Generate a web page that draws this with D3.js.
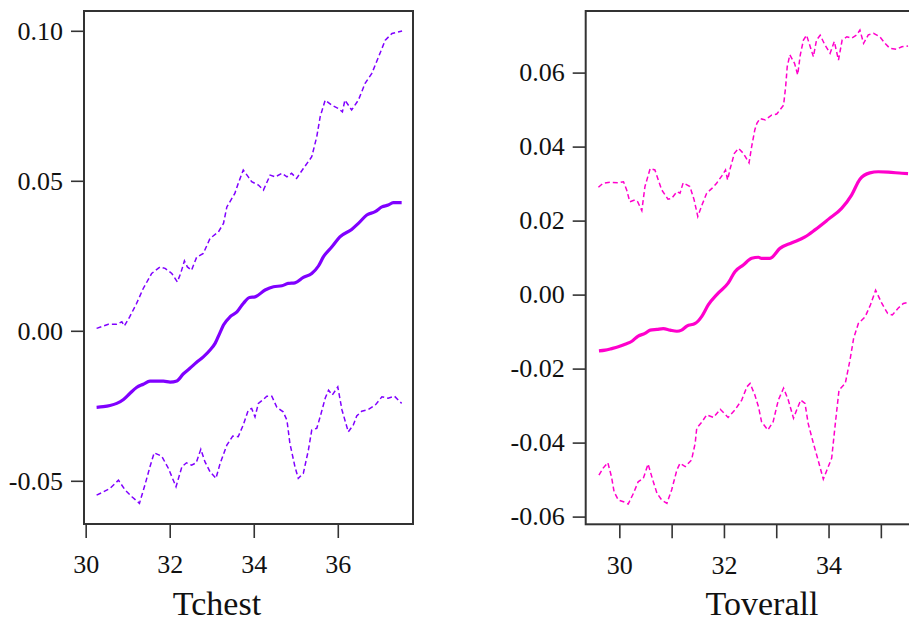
<!DOCTYPE html>
<html>
<head>
<meta charset="utf-8">
<script src="https://cdn.jsdelivr.net/npm/d3@7"></script>
<style>
  html, body { margin: 0; padding: 0; background: #fff; }
  svg { display: block; }
</style>
</head>
<body>
<svg id="chart" width="909" height="624"></svg>
<script>
// ---------- DATA ----------
// Panel 1: Tchest  — [x, y] pairs
const tchestFit = [[30.26,-0.0255],[30.42,-0.0253],[30.58,-0.0249],[30.74,-0.0242],[30.90,-0.0229],[31.05,-0.0209],[31.21,-0.0189],[31.37,-0.0178],[31.53,-0.0168],[31.85,-0.0168],[32.01,-0.0171],[32.17,-0.0167],[32.32,-0.0144],[32.48,-0.0125],[32.64,-0.0105],[32.80,-0.0087],[32.96,-0.0064],[33.08,-0.0042],[33.20,-0.0005],[33.28,0.0019],[33.44,0.0047],[33.60,0.0063],[33.75,0.0091],[33.90,0.0111],[34.03,0.0113],[34.27,0.0136],[34.47,0.0147],[34.67,0.0150],[34.82,0.0158],[34.98,0.0160],[35.18,0.0178],[35.38,0.0191],[35.54,0.0216],[35.66,0.0247],[35.86,0.0280],[36.05,0.0313],[36.33,0.0338],[36.49,0.0358],[36.69,0.0386],[36.89,0.0397],[37.05,0.0413],[37.20,0.0419],[37.32,0.0427],[37.52,0.0427]];
const tchestUpper = [[30.26,0.0008],[30.54,0.0022],[30.74,0.0022],[30.86,0.0030],[30.92,0.0016],[31.05,0.0047],[31.21,0.0091],[31.37,0.0141],[31.57,0.0191],[31.77,0.0213],[31.89,0.0208],[32.05,0.0191],[32.18,0.0163],[32.26,0.0191],[32.35,0.0233],[32.42,0.0213],[32.52,0.0202],[32.64,0.0245],[32.80,0.0258],[32.96,0.0308],[33.16,0.0330],[33.28,0.0358],[33.36,0.0413],[33.55,0.0458],[33.63,0.0491],[33.75,0.0536],[33.87,0.0513],[33.95,0.0497],[34.11,0.0486],[34.23,0.0469],[34.39,0.0519],[34.51,0.0513],[34.67,0.0525],[34.79,0.0513],[34.90,0.0525],[35.02,0.0508],[35.18,0.0541],[35.38,0.0580],[35.50,0.0647],[35.58,0.0713],[35.70,0.0769],[35.86,0.0752],[36.01,0.0741],[36.11,0.0730],[36.17,0.0769],[36.33,0.0736],[36.49,0.0769],[36.65,0.0825],[36.81,0.0858],[36.97,0.0913],[37.13,0.0969],[37.29,0.0991],[37.46,0.0997],[37.53,0.0999]];
const tchestLower = [[30.26,-0.0548],[30.42,-0.0537],[30.58,-0.0525],[30.78,-0.0498],[30.94,-0.0531],[31.10,-0.0553],[31.28,-0.0575],[31.41,-0.0514],[31.53,-0.0453],[31.63,-0.0407],[31.81,-0.0418],[31.97,-0.0459],[32.15,-0.0520],[32.29,-0.0453],[32.40,-0.0440],[32.52,-0.0448],[32.63,-0.0440],[32.74,-0.0395],[32.84,-0.0437],[32.96,-0.0470],[33.10,-0.0492],[33.20,-0.0442],[33.36,-0.0381],[33.50,-0.0351],[33.63,-0.0353],[33.75,-0.0314],[33.87,-0.0264],[33.95,-0.0259],[34.03,-0.0287],[34.11,-0.0242],[34.23,-0.0229],[34.31,-0.0218],[34.43,-0.0218],[34.55,-0.0255],[34.70,-0.0270],[34.79,-0.0298],[34.86,-0.0375],[34.98,-0.0453],[35.06,-0.0492],[35.18,-0.0475],[35.30,-0.0398],[35.38,-0.0331],[35.50,-0.0325],[35.58,-0.0287],[35.70,-0.0225],[35.78,-0.0198],[35.87,-0.0214],[36.00,-0.0187],[36.10,-0.0264],[36.17,-0.0298],[36.25,-0.0337],[36.37,-0.0314],[36.45,-0.0284],[36.57,-0.0268],[36.73,-0.0262],[36.89,-0.0248],[37.05,-0.0220],[37.20,-0.0225],[37.35,-0.0218],[37.52,-0.0242]];

// Panel 2: Toverall — [x, y] pairs
const toverallFit = [[29.61,-0.0152],[29.73,-0.0150],[29.85,-0.0146],[29.98,-0.0141],[30.11,-0.0134],[30.24,-0.0126],[30.36,-0.0112],[30.49,-0.0105],[30.59,-0.0096],[30.72,-0.0094],[30.84,-0.0092],[30.97,-0.0096],[31.10,-0.0099],[31.19,-0.0096],[31.29,-0.0085],[31.45,-0.0078],[31.58,-0.0058],[31.70,-0.0028],[31.89,0.0004],[32.08,0.0031],[32.21,0.0062],[32.37,0.0080],[32.53,0.0098],[32.66,0.0101],[32.72,0.0098],[32.88,0.0098],[33.07,0.0125],[33.30,0.0140],[33.55,0.0156],[33.74,0.0175],[34.00,0.0204],[34.25,0.0233],[34.44,0.0269],[34.60,0.0312],[34.79,0.0329],[34.95,0.0332],[35.14,0.0331],[35.40,0.0328],[35.52,0.0327]];
const toverallUpper = [[29.60,0.0290],[29.69,0.0301],[29.82,0.0304],[29.98,0.0302],[30.08,0.0305],[30.14,0.0283],[30.20,0.0251],[30.30,0.0256],[30.35,0.0251],[30.43,0.0227],[30.49,0.0292],[30.59,0.0341],[30.68,0.0337],[30.81,0.0283],[30.93,0.0258],[31.00,0.0260],[31.10,0.0278],[31.16,0.0274],[31.22,0.0302],[31.35,0.0292],[31.43,0.0256],[31.50,0.0211],[31.58,0.0242],[31.67,0.0274],[31.77,0.0287],[31.86,0.0301],[31.96,0.0321],[32.03,0.0337],[32.07,0.0310],[32.12,0.0341],[32.20,0.0382],[32.28,0.0395],[32.37,0.0382],[32.48,0.0356],[32.53,0.0400],[32.59,0.0445],[32.63,0.0463],[32.69,0.0476],[32.79,0.0472],[32.91,0.0485],[33.01,0.0488],[33.14,0.0512],[33.18,0.0562],[33.21,0.0616],[33.26,0.0648],[33.35,0.0625],[33.41,0.0594],[33.46,0.0648],[33.52,0.0688],[33.58,0.0701],[33.65,0.0670],[33.71,0.0643],[33.77,0.0688],[33.84,0.0701],[33.93,0.0675],[34.03,0.0652],[34.11,0.0684],[34.19,0.0634],[34.26,0.0688],[34.35,0.0697],[34.44,0.0693],[34.54,0.0702],[34.60,0.0715],[34.67,0.0679],[34.76,0.0702],[34.86,0.0706],[34.98,0.0697],[35.08,0.0679],[35.17,0.0666],[35.30,0.0663],[35.40,0.0670],[35.52,0.0672]];
const toverallLower = [[29.61,-0.0488],[29.69,-0.0469],[29.78,-0.0454],[29.85,-0.0492],[29.90,-0.0533],[29.98,-0.0555],[30.08,-0.0560],[30.17,-0.0566],[30.27,-0.0537],[30.36,-0.0506],[30.46,-0.0496],[30.55,-0.0458],[30.65,-0.0506],[30.72,-0.0537],[30.81,-0.0555],[30.91,-0.0564],[31.00,-0.0528],[31.10,-0.0474],[31.16,-0.0456],[31.26,-0.0465],[31.38,-0.0447],[31.45,-0.0402],[31.48,-0.0361],[31.58,-0.0344],[31.67,-0.0325],[31.80,-0.0332],[31.93,-0.0310],[32.08,-0.0332],[32.21,-0.0312],[32.34,-0.0285],[32.44,-0.0249],[32.50,-0.0240],[32.59,-0.0271],[32.66,-0.0303],[32.72,-0.0344],[32.84,-0.0366],[32.94,-0.0344],[33.04,-0.0285],[33.14,-0.0253],[33.23,-0.0285],[33.33,-0.0334],[33.39,-0.0312],[33.47,-0.0285],[33.55,-0.0294],[33.61,-0.0348],[33.71,-0.0402],[33.80,-0.0447],[33.90,-0.0499],[33.97,-0.0474],[34.06,-0.0442],[34.13,-0.0348],[34.20,-0.0258],[34.32,-0.0240],[34.41,-0.0177],[34.48,-0.0118],[34.57,-0.0078],[34.70,-0.0060],[34.80,-0.0028],[34.90,0.0012],[35.02,-0.0024],[35.13,-0.0051],[35.22,-0.0055],[35.33,-0.0037],[35.43,-0.0024],[35.54,-0.0020]];

const tchestXTicks = [30, 32, 34, 36];
const tchestYTicks = [-0.05, 0.00, 0.05, 0.10];
const toverallXTicks = [30, 31, 32, 33, 34, 35];
const toverallXLabels = [30, 32, 34];
const toverallYTicks = [-0.06, -0.04, -0.02, 0.00, 0.02, 0.04, 0.06];
const xTitles = ["Tchest", "Toverall"];

// ---------- DRAWING ----------
const svg = d3.select("#chart");
svg.append("rect").attr("width", 909).attr("height", 624).attr("fill", "#fff");

const FONT = "'Liberation Serif', 'Times New Roman', serif";
const AXIS = "#333";

function panel(opts) {
  const g = svg.append("g");
  const x = d3.scaleLinear().domain(opts.xDomain).range([opts.left, opts.right]);
  const y = d3.scaleLinear().domain(opts.yDomain).range([opts.bottom, opts.top]);

  // y axis
  const yAxis = d3.axisLeft(y).tickValues(opts.yTicks).tickSize(13).tickPadding(8)
    .tickFormat(d3.format(".2f"));
  const ya = g.append("g").attr("transform", `translate(${opts.left},0)`).call(yAxis);
  ya.select(".domain").remove();
  ya.selectAll("line").attr("stroke", AXIS).attr("stroke-width", 1.6);
  ya.selectAll("text").attr("font-family", FONT).attr("font-size", 26).attr("fill", "#111")
    .attr("dy", "0.32em").text(d => d3.format(".2f")(d).replace("−", "-"));

  // x axis
  const labelSet = new Set(opts.xLabels);
  const xAxis = d3.axisBottom(x).tickValues(opts.xTicks).tickSize(14).tickPadding(17)
    .tickFormat(d => labelSet.has(d) ? String(d) : "");
  const xa = g.append("g").attr("transform", `translate(0,${opts.bottom})`).call(xAxis);
  xa.select(".domain").remove();
  xa.selectAll("line").attr("stroke", AXIS).attr("stroke-width", 1.6);
  xa.selectAll("text").attr("font-family", FONT).attr("font-size", 26).attr("fill", "#111");

  // box
  g.append("rect")
    .attr("x", opts.left).attr("y", opts.top)
    .attr("width", opts.right - opts.left).attr("height", opts.bottom - opts.top)
    .attr("fill", "none").attr("stroke", AXIS).attr("stroke-width", 2);

  const line = d3.line().x(d => x(d[0])).y(d => y(d[1]));
  const smooth = d3.line().x(d => x(d[0])).y(d => y(d[1])).curve(d3.curveMonotoneX);

  [opts.upper, opts.lower].forEach(s => {
    g.append("path").datum(s).attr("d", line)
      .attr("fill", "none").attr("stroke", opts.color)
      .attr("stroke-width", 1.5).attr("stroke-dasharray", "5,3");
  });
  g.append("path").datum(opts.fit).attr("d", smooth)
    .attr("fill", "none").attr("stroke", opts.color)
    .attr("stroke-width", 3.2).attr("stroke-linejoin", "round");

  // x title
  g.append("text").attr("x", opts.titleX).attr("y", 615)
    .attr("text-anchor", "middle").attr("font-family", FONT)
    .attr("font-size", 34).attr("fill", "#111").text(opts.title);
}

panel({
  left: 84, right: 413, top: 11, bottom: 524,
  xDomain: [29.96, 37.79], yDomain: [-0.0644, 0.1066],
  xTicks: tchestXTicks, xLabels: tchestXTicks, yTicks: tchestYTicks,
  fit: tchestFit, upper: tchestUpper, lower: tchestLower,
  color: "#8000FF", title: xTitles[0], titleX: 217
});

panel({
  left: 585.7, right: 915, top: 11, bottom: 524.3,
  xDomain: [29.357, 35.653], yDomain: [-0.06208, 0.07665],
  xTicks: toverallXTicks, xLabels: toverallXLabels, yTicks: toverallYTicks,
  fit: toverallFit, upper: toverallUpper, lower: toverallLower,
  color: "#FF00CC", title: xTitles[1], titleX: 762
});
</script>
</body>
</html>
